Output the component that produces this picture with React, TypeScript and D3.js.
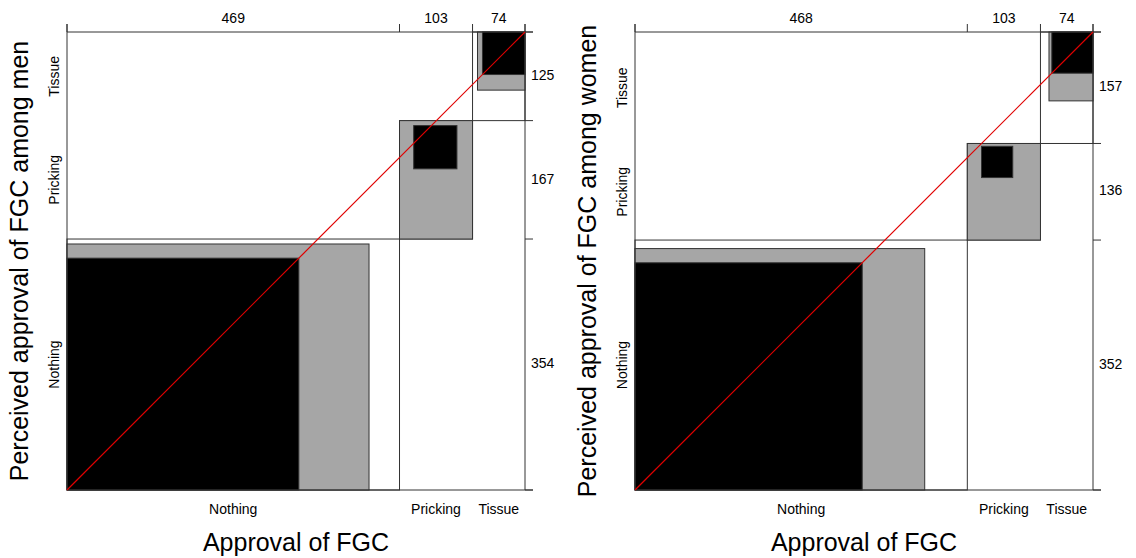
import React from 'react'
import * as d3 from 'd3'

// categories are shared by both axes
const categories = ['Nothing', 'Pricking', 'Tissue']

// rows = perceived approval (y), columns = own approval (x)
const menCounts = [
	[327, 20, 7],
	[99, 61, 7],
	[43, 22, 60],
]
const womenCounts = [
	[320, 20, 12],
	[88, 44, 4],
	[60, 39, 58],
]

const yTitles = [
	'Perceived approval of FGC among men',
	'Perceived approval of FGC among women',
]
const xTitle = 'Approval of FGC'

const W = 1136
const H = 558
const panelW = 568
const plot = { left: 67, right: 525, top: 32, bottom: 490 }
const font = "'Liberation Sans', Arial, Helvetica, sans-serif"
const lineCol = '#333'

const sum = (a: number[]) => a.reduce((s, v) => s + v, 0)

function Panel({ counts, title, dx }: { counts: number[][]; title: string; dx: number }) {
	const K = categories.length
	const colTot = categories.map((_, j) => sum(counts.map((r) => r[j])))
	const rowTot = counts.map((r) => sum(r))
	const total = sum(colTot)
	const cx = [0, ...d3.cumsum(colTot)]
	const cy = [0, ...d3.cumsum(rowTot)]

	const x = d3.scaleLinear().domain([0, total]).range([plot.left, plot.right])
	const y = d3.scaleLinear().domain([0, total]).range([plot.bottom, plot.top])

	const rect = (x0: number, y0: number, w: number, h: number, fill: string, key: string) => (
		<rect
			key={key}
			x={x(x0)}
			y={y(y0 + h)}
			width={x(x0 + w) - x(x0)}
			height={y(y0) - y(y0 + h)}
			fill={fill}
			stroke={lineCol}
			strokeWidth={1}
		/>
	)

	const cells = categories.map((_, k) => {
		const lo = Math.max(0, k - 1)
		const hi = Math.min(K - 1, k + 1)
		const col = counts.map((r) => r[k])
		const row = counts[k]
		const gx = cx[k] + sum(col.slice(0, lo))
		const gw = sum(col.slice(lo, hi + 1))
		const gy = cy[k] + sum(row.slice(0, lo))
		const gh = sum(row.slice(lo, hi + 1))
		const bx = cx[k] + sum(col.slice(0, k))
		const by = cy[k] + sum(row.slice(0, k))
		return (
			<g key={k}>
				{rect(cx[k], cy[k], colTot[k], rowTot[k], '#fff', 'big')}
				{rect(gx, gy, gw, gh, '#a6a6a6', 'partial')}
				{rect(bx, by, counts[k][k], counts[k][k], '#000', 'exact')}
			</g>
		)
	})

	const tick = 8
	return (
		<g transform={`translate(${dx},0)`} fontFamily={font}>
			{cells}
			{/* frame */}
			<line x1={plot.left} x2={plot.right + tick} y1={y(total)} y2={y(total)} stroke={lineCol} />
			<line x1={plot.left} x2={plot.right + tick} y1={y(0)} y2={y(0)} stroke={lineCol} />
			<line x1={x(0)} x2={x(0)} y1={plot.top - tick} y2={plot.bottom} stroke={lineCol} />
			<line x1={x(total)} x2={x(total)} y1={plot.top - tick} y2={plot.bottom} stroke={lineCol} />
			{cx.map((v, i) => (
				<line key={'tx' + i} x1={x(v)} x2={x(v)} y1={plot.top - tick} y2={plot.top} stroke={lineCol} />
			))}
			{cy.map((v, i) => (
				<line key={'ty' + i} x1={plot.right} x2={plot.right + tick} y1={y(v)} y2={y(v)} stroke={lineCol} />
			))}
			{/* diagonal */}
			<line x1={x(0)} y1={y(0)} x2={x(total)} y2={y(total)} stroke="#e00000" strokeWidth={1.2} />
			{/* marginal totals */}
			{colTot.map((v, i) => (
				<text key={'ct' + i} x={x((cx[i] + cx[i + 1]) / 2)} y={23} fontSize={14} textAnchor="middle">
					{v}
				</text>
			))}
			{rowTot.map((v, i) => (
				<text
					key={'rt' + i}
					x={plot.right + 6}
					y={y((cy[i] + cy[i + 1]) / 2)}
					fontSize={14}
					dominantBaseline="middle"
				>
					{v}
				</text>
			))}
			{/* category labels */}
			{categories.map((c, i) => (
				<text key={'xc' + i} x={x((cx[i] + cx[i + 1]) / 2)} y={514} fontSize={14} textAnchor="middle">
					{c}
				</text>
			))}
			{categories.map((c, i) => {
				const yy = y((cy[i] + cy[i + 1]) / 2)
				return (
					<text key={'yc' + i} transform={`translate(59,${yy}) rotate(-90)`} fontSize={14} textAnchor="middle">
						{c}
					</text>
				)
			})}
			{/* axis titles */}
			<text x={(plot.left + plot.right) / 2} y={551} fontSize={25} textAnchor="middle">
				{xTitle}
			</text>
			<text
				transform={`translate(28,${(plot.top + plot.bottom) / 2}) rotate(-90)`}
				fontSize={25}
				textAnchor="middle"
			>
				{title}
			</text>
		</g>
	)
}

export default function App() {
	return (
		<svg
			width={W}
			height={H}
			viewBox={`0 0 ${W} ${H}`}
			style={{ position: 'absolute', left: 0, top: 0, background: '#fff' }}
		>
			<Panel counts={menCounts} title={yTitles[0]} dx={0} />
			<Panel counts={womenCounts} title={yTitles[1]} dx={panelW} />
		</svg>
	)
}
